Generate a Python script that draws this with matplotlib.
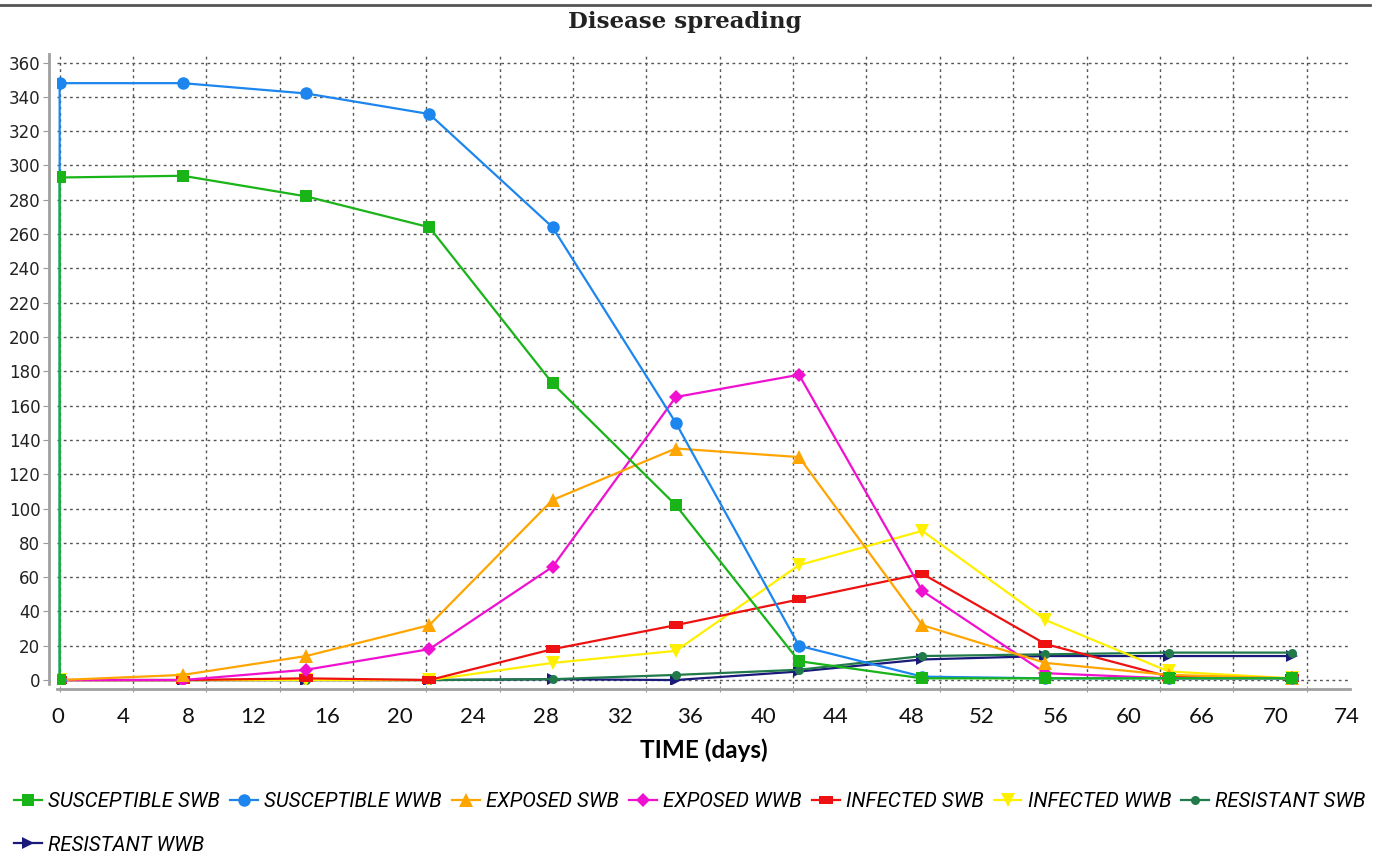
import numpy as np
import matplotlib.pyplot as plt
from matplotlib import font_manager
from matplotlib.lines import Line2D

# weekly samples (day 0 twice: the susceptible curves start from 0)
days = [0, 0, 7, 14, 21, 28, 35, 42, 49, 56, 63, 70]

susceptible_swb = [0, 293, 294, 282, 264, 173, 102, 11, 1, 1, 1, 1]
susceptible_wwb = [0, 348, 348, 342, 330, 264, 150, 20, 2, 1, 1, 1]
exposed_swb = [0, 0, 3, 14, 32, 105, 135, 130, 32, 10, 3, 1]
exposed_wwb = [0, 0, 0, 6, 18, 66, 165, 178, 52, 4, 1, 1]
infected_swb = [0, 0, 0, 1, 0, 18, 32, 47, 62, 21, 2, 1]
infected_wwb = [0, 0, 0, 0, 0, 10, 17, 67, 87, 35, 5, 1]
resistant_swb = [0, 0, 0, 0, 0, 0.5, 3, 6, 14, 15, 16, 16]
resistant_wwb = [0, 0, 0, 0, 0, 0.5, 0, 5, 12, 14, 14, 14]

series_names = ['SUSCEPTIBLE SWB', 'SUSCEPTIBLE WWB', 'EXPOSED SWB', 'EXPOSED WWB',
                'INFECTED SWB', 'INFECTED WWB', 'RESISTANT SWB', 'RESISTANT WWB']

# x tick labels as printed on the chart (they don't sit on the grid lines)
xtick_labels = ['0', '4', '8', '12', '16', '20', '24', '28', '32', '36', '40',
                '44', '48', '52', '56', '60', '66', '70', '74']
xtick_pos = [-0.1, 3.6, 7.3, 11.0, 15.2, 19.3, 23.5, 27.6, 31.8, 35.8, 40.0,
             44.1, 48.4, 52.4, 56.6, 60.7, 64.9, 69.1, 73.1]

colors = ['#18b418', '#1c86ee', '#ffa500', '#f010d0',
          '#ee1111', '#fff000', '#217a4a', '#1a1a7a']
rect = [(-1, -0.55), (1, -0.55), (1, 0.55), (-1, 0.55), (-1, -0.55)]
markers = ['s', 'o', '^', 'D', rect, 'v', 'o', '>']
msizes = [8.5, 9, 10, 7.5, 10, 10, 6.5, 9]

names = {f.name for f in font_manager.fontManager.ttflist}
if 'Liberation Sans Narrow' in names:
    legend_font = dict(family='Liberation Sans Narrow', style='italic', size=16)
else:
    legend_font = dict(family='Roboto', style='italic', size=14.8)

fig = plt.figure(figsize=(13.84, 8.52), dpi=100)
ax = fig.add_axes([57/1384, 168/852, 1293/1384, 630/852])

data = [susceptible_swb, susceptible_wwb, exposed_swb, exposed_wwb,
        infected_swb, infected_wwb, resistant_swb, resistant_wwb]
lines = []
for i, (vals, c, m, ms, name) in enumerate(zip(data, colors, markers, msizes, series_names)):
    # first series on top, like the original renderer
    ln, = ax.plot(days, vals, color=c, lw=1.6, marker=m, ms=ms,
                  mec=c, mfc=c, mew=0, label=name, zorder=20 - i)
    lines.append(ln)

ax.set_xlim(-0.15, 73.3)
ax.set_ylim(-2.3, 365)

# grid follows the original hour axis: a line every 100 h
grid_days = np.arange(18) * 100 / 24
ax.set_xticks(grid_days)
ax.set_yticks(range(0, 361, 20))
ax.grid(True, color='#555555', ls=(0, (2, 2.5)), lw=1)
ax.set_axisbelow(True)

ax.set_xticks(xtick_pos, minor=True)
ax.set_xticklabels(xtick_labels, minor=True)
ax.tick_params(axis='x', which='major', labelbottom=False, length=4,
               color='#999999', direction='inout')
ax.tick_params(axis='x', which='minor', length=0, pad=13, labelsize=16,
               labelfontfamily='Lato', labelcolor='#111111')
ax.tick_params(axis='y', length=4, color='#999999', labelsize=12,
               labelcolor='#222222', pad=2)

for s in ['top', 'right']:
    ax.spines[s].set_visible(False)
ax.spines['left'].set_position(('outward', 6))
ax.spines['bottom'].set_position(('outward', 3.6))
for s in ['left', 'bottom']:
    ax.spines[s].set_color('#a0a0a0')
    ax.spines[s].set_linewidth(2)

ax.set_xlabel('TIME (days)', family='Lato', fontweight='bold', fontsize=17.5,
              labelpad=8)

fig.text(685/1384, 1 - 22/852, 'Disease spreading', ha='center', va='center',
         family='DejaVu Serif', fontweight='bold', fontsize=16.5, color='#222222')
fig.add_artist(Line2D([0, 1370/1384], [1 - 5/852, 1 - 5/852], color='#555555', lw=2))

# column-major fill: put the 8th entry under the first
order = [0, 7, 1, 2, 3, 4, 5, 6]
fig.legend([lines[i] for i in order], [series_names[i] for i in order],
           ncol=7, loc='upper left', bbox_to_anchor=(14/1384, 1 - 792/852),
           frameon=False, prop=legend_font, handlelength=1.35, handletextpad=0.3,
           columnspacing=0.5, labelspacing=1.2, borderpad=0, borderaxespad=0)

fig.savefig('out.png', dpi=100)
